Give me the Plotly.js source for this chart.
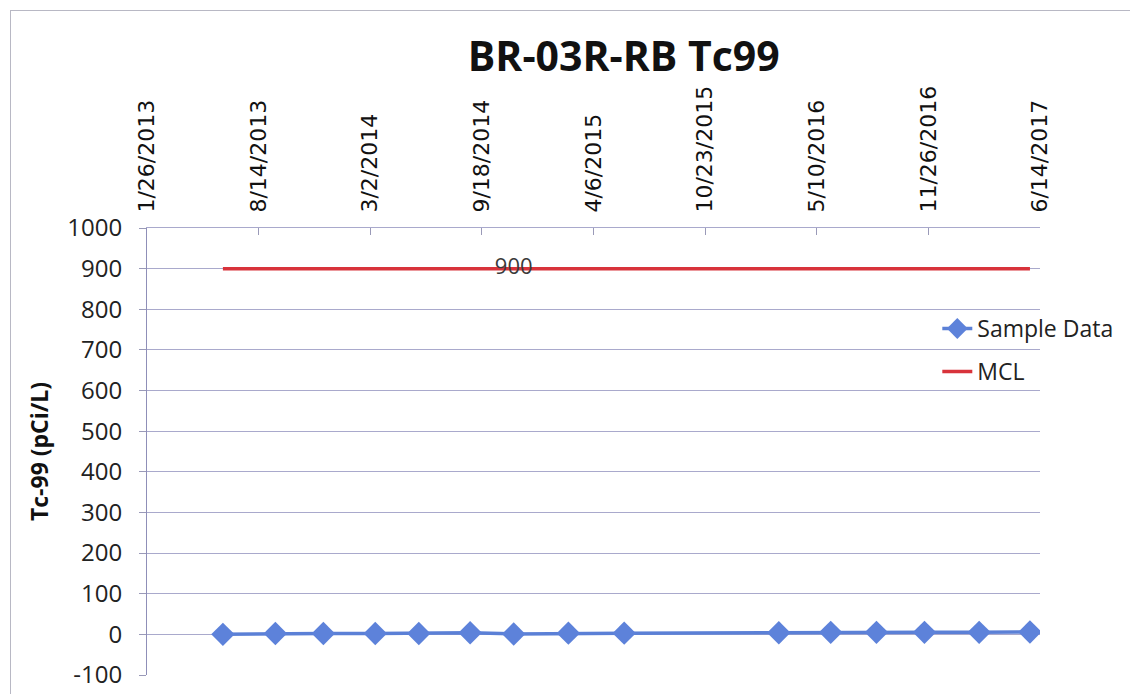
<!DOCTYPE html>
<html>
<head>
<meta charset="utf-8">
<script src="https://cdn.plot.ly/plotly-3.0.1.min.js"></script>
<style>
  html, body { margin: 0; padding: 0; background: #fff; }
  #chart { position: absolute; left: 0; top: 0; width: 1130px; height: 694px; }
  #frame { position: absolute; left: 10px; top: 10px; width: 1200px; height: 800px;
           border: 1px solid #b8b8c4; pointer-events: none; }
</style>
</head>
<body>
<div id="chart"></div>
<div id="frame"></div>
<script>
// ---- data ----
const sampleDates = [
  '2013-06-11', '2013-09-13', '2013-12-08', '2014-03-11', '2014-05-28',
  '2014-08-28', '2014-11-14', '2015-02-20', '2015-05-31', '2016-03-03',
  '2016-06-04', '2016-08-25', '2016-11-19', '2017-02-25', '2017-05-27'
];
const sampleValues = [0, 2, 2, 2, 2, 4, 1, 3, 3, 4, 5, 5, 5, 5, 6];
const mclValues = [900, 900, 900, 900, 900, 900, 900, 900, 900, 900, 900, 900, 900, 900, 900];
const mclLabels = ['', '', '', '', '', '', '900', '', '', '', '', '', '', '', ''];
const tickDates = [
  '2013-01-26', '2013-08-14', '2014-03-02', '2014-09-18', '2015-04-06',
  '2015-10-23', '2016-05-10', '2016-11-26', '2017-06-14'
];
const tickLabels = [
  '1/26/2013', '8/14/2013', '3/2/2014', '9/18/2014', '4/6/2015',
  '10/23/2015', '5/10/2016', '11/26/2016', '6/14/2017'
];
const yTicks = [-100, 0, 100, 200, 300, 400, 500, 600, 700, 800, 900, 1000];
const yTickLabels = ['-100', '0', '100', '200', '300', '400', '500', '600', '700', '800', '900', '1000'];

const gridColor = '#a9a9cc';
const textFont = 'Open Sans, Noto Sans, sans-serif';

const traces = [
  {
    x: sampleDates, y: sampleValues, name: 'Sample Data', legendgroup: 'a',
    type: 'scatter', mode: 'lines+markers',
    line: { color: '#5b80d6', width: 3.5 },
    marker: { symbol: 'diamond', size: 18, color: '#5d82da', line: { width: 0 } },
    hoverinfo: 'x+y'
  },
  {
    x: sampleDates, y: mclValues, name: 'MCL', legendgroup: 'b',
    type: 'scatter', mode: 'lines+text',
    text: mclLabels, textposition: 'middle center',
    textfont: { family: textFont, size: 22, color: '#3a3a3a' },
    line: { color: '#d8333b', width: 3.5 },
    hoverinfo: 'x+y'
  }
];

const layout = {
  width: 1130, height: 694,
  margin: { l: 147, r: 87, t: 228, b: 19 },
  paper_bgcolor: '#ffffff', plot_bgcolor: '#ffffff',
  showlegend: true,
  title: {
    text: '<b>BR-03R-RB Tc99</b>',
    font: { family: textFont, size: 41, color: '#111111' },
    xref: 'container', yref: 'container',
    x: 0.552, xanchor: 'center', y: 0.918, yanchor: 'middle'
  },
  xaxis: {
    type: 'date', side: 'top',
    range: [tickDates[0], tickDates[tickDates.length - 1]],
    tickmode: 'array', tickvals: tickDates, ticktext: tickLabels,
    tickangle: -90,
    tickfont: { family: 'DejaVu Sans, sans-serif', size: 22, color: '#111111' },
    ticks: 'inside', ticklen: 7, tickcolor: '#9a9ab8',
    showgrid: false, zeroline: false,
    showline: true, linecolor: gridColor, linewidth: 1,
    ticklabelstandoff: 10,
    fixedrange: true
  },
  yaxis: {
    range: [-100, 1000],
    tickmode: 'array', tickvals: yTicks, ticktext: yTickLabels,
    tickfont: { family: textFont, size: 24, color: '#222222' },
    ticks: 'outside', ticklen: 7, tickcolor: '#9a9ab8',
    showgrid: true, gridcolor: gridColor, gridwidth: 1,
    zeroline: false,
    showline: true, linecolor: '#8f8fb8', linewidth: 1,
    ticklabelstandoff: 12,
    title: {
      text: '<b>Tc-99 (pCi/L)</b>',
      font: { family: textFont, size: 23, color: '#111111' },
      standoff: 12
    },
    fixedrange: true
  },
  legend: {
    x: 0.885, xanchor: 'left', y: 0.727, yanchor: 'middle',
    bgcolor: 'rgba(0,0,0,0)', borderwidth: 0,
    font: { family: textFont, size: 23, color: '#222222' },
    tracegroupgap: 10
  }
};

Plotly.newPlot('chart', traces, layout, { displayModeBar: false, staticPlot: true });
</script>
</body>
</html>
